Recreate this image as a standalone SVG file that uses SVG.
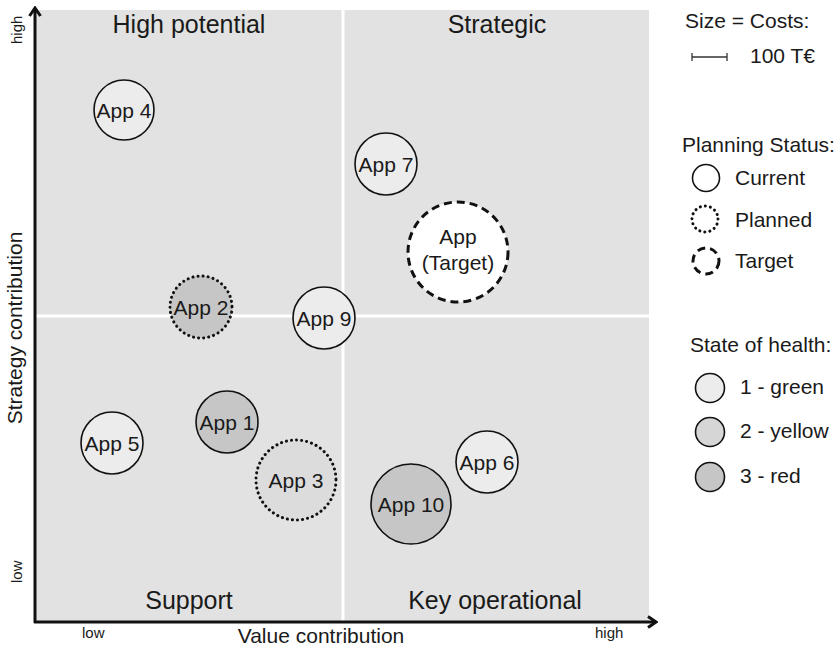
<svg xmlns="http://www.w3.org/2000/svg" width="840" height="649" viewBox="0 0 840 649">
<style>
text{font-family:"Liberation Sans",Arial,sans-serif;fill:#1a1a1a}
.app{font-size:21px;text-anchor:middle}
.quad{font-size:25px;text-anchor:middle}
.leg{font-size:21px}
.axis{font-size:21px;text-anchor:middle}
.small{font-size:15px}
.c{stroke:#111;stroke-width:1.6}
.plan{stroke-width:3;stroke-dasharray:0.1 5;stroke-linecap:round}
.tgt{stroke-width:3;stroke-dasharray:8 5}
.g1{fill:#ececec}
.g2{fill:#d6d6d6}
.g3{fill:#c5c6c5}
</style>
<defs>
<marker id="arr" viewBox="0 0 12 14" refX="10" refY="7" markerWidth="12" markerHeight="14" orient="auto" markerUnits="userSpaceOnUse">
<path d="M2,1.5 L10,7 L2,12.5" fill="none" stroke="#111" stroke-width="3"/>
</marker>
</defs>
<g id="background">
<rect x="36" y="10" width="613" height="611" fill="#e1e2e1"/>
<line x1="343" y1="10" x2="343" y2="621" stroke="#fff" stroke-width="3"/>
<line x1="36" y1="316" x2="649" y2="316" stroke="#fff" stroke-width="3"/>
</g>
<g id="quadrant-labels">
<text class="quad" x="189" y="33">High potential</text>
<text class="quad" x="497" y="33">Strategic</text>
<text class="quad" x="189" y="609">Support</text>
<text class="quad" x="495" y="609">Key operational</text>
</g>
<g id="connectors">
<path d="M35,623 L35,8" fill="none" stroke="#111" stroke-width="3" marker-end="url(#arr)"/>
<path d="M34,622 L656,622" fill="none" stroke="#111" stroke-width="3" marker-end="url(#arr)"/>
</g>
<g id="axis-labels">
<text class="axis" transform="translate(22,328) rotate(-90)">Strategy contribution</text>
<text class="axis" x="321" y="643">Value contribution</text>
<text class="small" transform="translate(22,44) rotate(-90)">high</text>
<text class="small" transform="translate(22,583) rotate(-90)">low</text>
<text class="small" x="82" y="638">low</text>
<text class="small" x="595" y="638">high</text>
</g>
<g id="app4"><circle class="c g1" cx="124" cy="110" r="30"/><text class="app" x="124" y="117.5">App 4</text></g>
<g id="app7"><circle class="c g1" cx="386" cy="164" r="31"/><text class="app" x="386" y="171.5">App 7</text></g>
<g id="appTarget"><circle class="c tgt" fill="#fff" cx="458" cy="252" r="50"/><text class="app" x="458" y="244">App</text><text class="app" x="458" y="270">(Target)</text></g>
<g id="app2"><circle class="c plan g3" cx="201" cy="307" r="31"/><text class="app" x="201" y="314.5">App 2</text></g>
<g id="app9"><circle class="c g1" cx="324" cy="318" r="31"/><text class="app" x="324" y="325.5">App 9</text></g>
<g id="app5"><circle class="c g1" cx="112" cy="443" r="31"/><text class="app" x="112" y="450.5">App 5</text></g>
<g id="app1"><circle class="c g3" cx="227" cy="422" r="31"/><text class="app" x="227" y="429.5">App 1</text></g>
<g id="app3"><circle class="c plan" fill="#dcdcdc" cx="296" cy="480" r="40"/><text class="app" x="296" y="487.5">App 3</text></g>
<g id="app10"><circle class="c g3" cx="411" cy="504" r="40"/><text class="app" x="411" y="511.5">App 10</text></g>
<g id="app6"><circle class="c g1" cx="487" cy="462" r="31"/><text class="app" x="487" y="469.5">App 6</text></g>
<g id="legend-size">
<text class="leg" x="685" y="28">Size = Costs:</text>
<line x1="692" y1="57" x2="727" y2="57" stroke="#333" stroke-width="1.3"/>
<line x1="692" y1="53" x2="692" y2="61" stroke="#333" stroke-width="1.3"/>
<line x1="727" y1="53" x2="727" y2="61" stroke="#333" stroke-width="1.3"/>
<text class="leg" x="750" y="63">100 T€</text>
</g>
<g id="legend-status">
<text class="leg" x="682" y="152">Planning Status:</text>
<circle class="c" fill="#fff" cx="706" cy="178" r="13.5"/>
<text class="leg" x="735" y="185">Current</text>
<circle class="c plan" fill="#fff" cx="705" cy="219" r="13"/>
<text class="leg" x="735" y="227">Planned</text>
<circle class="c tgt" fill="#fff" stroke-dasharray="6 5" cx="706" cy="261" r="13"/>
<text class="leg" x="735" y="268">Target</text>
</g>
<g id="legend-health">
<text class="leg" x="690" y="352">State of health:</text>
<circle class="c g1" cx="710" cy="388" r="14.5"/>
<text class="leg" x="740" y="394">1 - green</text>
<circle class="c g2" cx="710" cy="432" r="14.5"/>
<text class="leg" x="740" y="438">2 - yellow</text>
<circle class="c g3" cx="710" cy="477" r="14.5"/>
<text class="leg" x="740" y="483">3 - red</text>
</g>
</svg>
